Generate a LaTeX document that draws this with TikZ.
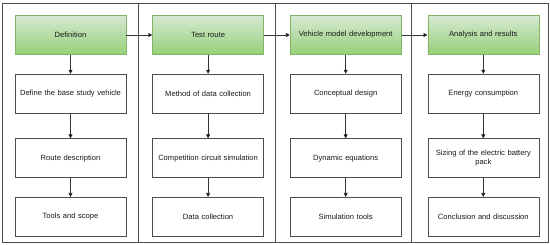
\documentclass[tikz,border=0pt]{standalone}
\usepackage{fontspec}
\setmainfont{Liberation Sans}
\usepackage{xcolor}
\usetikzlibrary{positioning, arrows.meta}

\definecolor{headtop}{HTML}{D5E8D4}
\definecolor{headbot}{HTML}{97D077}
\definecolor{headline}{HTML}{82B366}
\definecolor{boxline}{HTML}{4D4D4D}

\begin{document}
\begin{tikzpicture}[x=1pt, y=1pt, ->, >={Triangle[length=4pt, width=4pt]}, node distance=19pt and 26pt,
    every node/.style={font=\fontsize{7.6}{9}\selectfont, text=black!90},
    stage/.style={draw=boxline, line width=0.6pt, minimum width=111pt, minimum height=39pt, inner sep=1pt, text width=107pt, align=center},
    head/.style={stage, draw=headline, top color=headtop, bottom color=headbot},
    link/.style={draw=black!80, line width=0.6pt}]
    \useasboundingbox (0,0) rectangle (550,245);

    % outer frame and column dividers
    \draw[-, boxline, line width=0.6pt] (2,3) rectangle (548,242);
    \foreach \xd in {138.5, 275, 411.5}
        \draw[-, boxline, line width=0.6pt] (\xd,3) -- (\xd,242);

    % column 1
    \node[head] (def) at (70.5,210) {Definition};
    \node[stage] (def1) [below=of def] {Define the base study vehicle};
    \node[stage] (def2) [below=25pt of def1] {Route description};
    \node[stage] (def3) [below=of def2] {Tools and scope};

    % column 2
    \node[head] (route) [right=of def] {Test route};
    \node[stage] (route1) [below=of route] {Method of data collection};
    \node[stage] (route2) [below=25pt of route1] {Competition circuit simulation};
    \node[stage] (route3) [below=of route2] {Data collection};

    % column 3
    \node[head] (model) [right=of route] {Vehicle model development};
    \node[stage] (model1) [below=of model] {Conceptual design};
    \node[stage] (model2) [below=25pt of model1] {Dynamic equations};
    \node[stage] (model3) [below=of model2] {Simulation tools};

    % column 4
    \node[head] (res) [right=of model] {Analysis and results};
    \node[stage] (res1) [below=of res] {Energy consumption};
    \node[stage] (res2) [below=25pt of res1] {Sizing of the electric battery\\pack};
    \node[stage] (res3) [below=of res2] {Conclusion and discussion};

    \path[link] (def) edge (route)
                (route) edge (model)
                (model) edge (res);
    \foreach \col in {def, route, model, res} {
        \path[link] (\col) edge (\col1)
                    (\col1) edge (\col2)
                    (\col2) edge (\col3);
    }
\end{tikzpicture}
\end{document}
